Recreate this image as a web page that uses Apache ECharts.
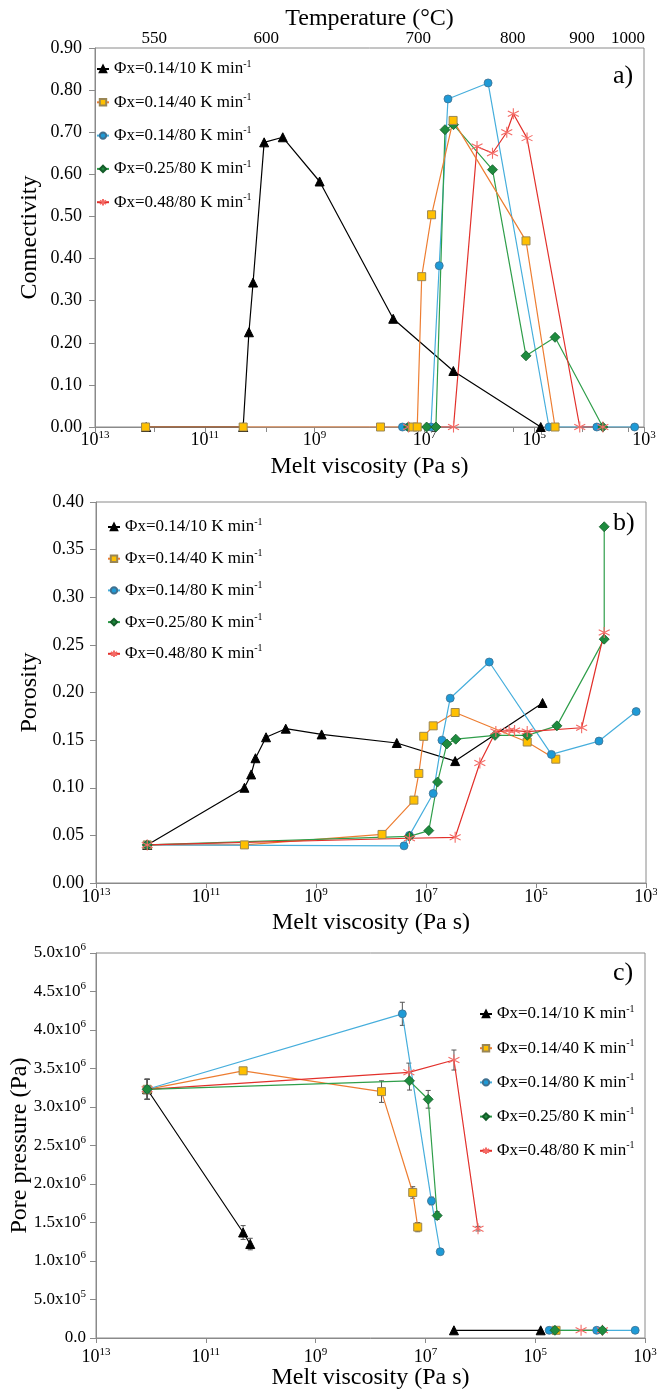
<!DOCTYPE html>
<html><head><meta charset="utf-8">
<script src="https://cdn.jsdelivr.net/npm/echarts@6/dist/echarts.min.js"></script>
<style>html,body{margin:0;padding:0;background:#fff}#c{width:657px;height:1393px}</style>
</head><body><div id="c"></div>
<script>
// ---------- DATA ----------
const seriesNames = ['Φx=0.14/10 K min-1','Φx=0.14/40 K min-1','Φx=0.14/80 K min-1','Φx=0.25/80 K min-1','Φx=0.48/80 K min-1'];

// top axis: temperature labels and their position as log10 melt viscosity
const tempLabels = ['550','600','700','800','900','1000'];
const tempLogViscosity = [11.92, 9.88, 7.11, 5.39, 4.13, 3.29];

// Panel a) connectivity vs melt viscosity (Pa s)
const aEta10 = [1.17e12, 2.0e10, 1.57e10, 1.32e10, 8.3e9, 3.8e9, 8.1e8, 3.7e7, 2.97e6, 7.6e4];
const aConn10 = [0, 0, 0.225, 0.343, 0.676, 0.688, 0.583, 0.257, 0.133, 0];
const aEta40 = [1.2e12, 2.0e10, 6.3e7, 1.62e7, 1.35e7, 1.12e7, 7.4e6, 3.0e6, 1.41e5, 4.17e4];
const aConn40 = [0, 0, 0, 0, 0, 0.357, 0.504, 0.728, 0.442, 0];
const aEta80 = [2.51e7, 1.95e7, 7.6e6, 5.37e6, 3.72e6, 6.92e5, 5.37e4, 7.24e3, 1.48e3];
const aConn80 = [0, 0, 0, 0.383, 0.779, 0.817, 0, 0, 0];
const aEta25 = [1.95e7, 9.1e6, 6.17e6, 4.22e6, 2.95e6, 5.75e5, 1.41e5, 4.17e4, 5.62e3];
const aConn25 = [0, 0, 0, 0.706, 0.718, 0.611, 0.169, 0.213, 0];
const aEta48 = [1.95e7, 2.95e6, 1.1e6, 5.75e5, 3.16e5, 2.4e5, 1.35e5, 1.48e4, 5.62e3];
const aConn48 = [0, 0, 0.666, 0.650, 0.700, 0.744, 0.686, 0, 0];

// Panel b) porosity
const bEta10 = [1.17e12, 2.0e10, 1.51e10, 1.26e10, 8.1e9, 3.55e9, 7.9e8, 3.4e7, 2.95e6, 7.6e4];
const bPor10 = [0.040, 0.100, 0.114, 0.131, 0.153, 0.162, 0.156, 0.147, 0.128, 0.189];
const bEta40 = [1.17e12, 2.0e10, 6.3e7, 1.66e7, 1.35e7, 1.1e7, 7.4e6, 2.95e6, 1.445e5, 4.37e4];
const bPor40 = [0.040, 0.040, 0.051, 0.087, 0.115, 0.154, 0.165, 0.179, 0.148, 0.130];
const bEta80 = [1.17e12, 2.51e7, 2.0e7, 7.4e6, 5.13e6, 3.63e6, 7.08e5, 5.25e4, 7.16e3, 1.51e3];
const bPor80 = [0.040, 0.039, 0.050, 0.094, 0.150, 0.194, 0.232, 0.135, 0.149, 0.180];
const bEta25 = [1.17e12, 2.0e7, 8.9e6, 6.17e6, 4.17e6, 2.88e6, 5.56e5, 1.445e5, 4.17e4, 5.75e3, 5.75e3];
const bPor25 = [0.040, 0.049, 0.055, 0.106, 0.146, 0.151, 0.155, 0.155, 0.165, 0.256, 0.374];
const bEta48 = [1.17e12, 2.0e7, 2.95e6, 1.05e6, 5.37e5, 3.09e5, 2.45e5, 1.445e5, 1.48e4, 5.75e3];
const bPor48 = [0.040, 0.047, 0.048, 0.126, 0.159, 0.160, 0.160, 0.159, 0.163, 0.263];

// Panel c) pore pressure (Pa), with error half-widths (null = gap in line)
const cEta10 = [1.17e12, 2.09e10, 1.55e10, null, 3.02e6, 7.94e4];
const cPre10 = [3.23e6, 1.37e6, 1.22e6, null, 1.0e5, 1.0e5];
const cErr10 = [0.13e6, 0.09e6, 0.075e6, null, 0, 0];
const cEta40 = [1.17e12, 2.09e10, 6.3e7, 1.7e7, 1.38e7, null, 4.17e4];
const cPre40 = [3.23e6, 3.47e6, 3.20e6, 1.89e6, 1.44e6, null, 1.0e5];
const cErr40 = [0.13e6, 0, 0.14e6, 0.075e6, 0.06e6, null, 0];
const cEta80 = [1.17e12, 2.63e7, 7.76e6, 5.37e6, null, 5.56e4, 7.59e3, 1.51e3];
const cPre80 = [3.23e6, 4.21e6, 1.78e6, 1.12e6, null, 1.0e5, 1.0e5, 1.0e5];
const cErr80 = [0.13e6, 0.15e6, 0.05e6, 0.03e6, null, 0, 0, 0];
const cEta25 = [1.17e12, 1.95e7, 8.9e6, 6.1e6, null, 4.37e4, 5.96e3];
const cPre25 = [3.23e6, 3.34e6, 3.10e6, 1.59e6, null, 1.0e5, 1.0e5];
const cErr25 = [0.13e6, 0.12e6, 0.115e6, 0.05e6, null, 0, 0];
const cEta48 = [1.17e12, 2.0e7, 3.02e6, 1.1e6, null, 1.46e4, 5.96e3];
const cPre48 = [3.23e6, 3.45e6, 3.61e6, 1.42e6, null, 1.0e5, 1.0e5];
const cErr48 = [0.13e6, 0.12e6, 0.13e6, 0.03e6, null, 0, 0];

// ---------- STYLE ----------
const FONT = 'Liberation Serif';
const GRAY = '#8a8a8a';
const ASTERISK = 'path://M5,0L5,10M0.7,2.5L9.3,7.5M0.7,7.5L9.3,2.5';
const styles = [
  {symbol:'triangle', size:9, fill:'#000000', border:'#000000', bw:1, line:'#000000'},
  {symbol:'rect', size:8, fill:'#FFC000', border:'#9a8654', bw:1, line:'#ED7D31'},
  {symbol:'circle', size:8, fill:'#1E9AD6', border:'#40708f', bw:0.8, line:'#46AEDC'},
  {symbol:'diamond', size:10, fill:'#1E8B3E', border:'#145c29', bw:0.8, line:'#2F9E4A'},
  {symbol:ASTERISK, size:11, fill:'#F46B66', border:'#F46B66', bw:1.1, line:'#E2302B'}
];

function pairs(xs, ys) {
  return xs.map((x, i) => (x == null || ys[i] == null) ? ['-', '-'] : [x, ys[i]]);
}
function lineSeries(k, xIdx, yIdx, xs, ys) {
  const s = styles[k];
  return {
    name: seriesNames[k], type: 'line', xAxisIndex: xIdx, yAxisIndex: yIdx,
    data: pairs(xs, ys), symbol: s.symbol, symbolSize: s.size, showSymbol: true,
    connectNulls: false, animation: false,
    lineStyle: {color: s.line, width: 1.2},
    itemStyle: {color: s.fill, borderColor: s.border, borderWidth: s.bw},
    emphasis: {disabled: true}
  };
}
function errSeries(xs, ys, es) {
  const d = [];
  xs.forEach((x, i) => { if (x != null && es[i]) d.push([x, ys[i] - es[i], ys[i] + es[i]]); });
  return {
    type: 'custom', xAxisIndex: 3, yAxisIndex: 2, data: d, animation: false,
    encode: {x: 0, y: [1, 2]}, silent: true,
    renderItem: (params, api) => {
      const x = api.value(0);
      const p1 = api.coord([x, api.value(2)]);
      const p2 = api.coord([x, api.value(1)]);
      const w = 2.5, st = {stroke: '#555555', lineWidth: 1};
      return {type: 'group', children: [
        {type: 'line', shape: {x1: p1[0], y1: p1[1], x2: p2[0], y2: p2[1]}, style: st},
        {type: 'line', shape: {x1: p1[0] - w, y1: p1[1], x2: p1[0] + w, y2: p1[1]}, style: st},
        {type: 'line', shape: {x1: p2[0] - w, y1: p2[1], x2: p2[0] + w, y2: p2[1]}, style: st}
      ]};
    }
  };
}

const supRich = {sup: {fontSize: 11, fontFamily: FONT, color: '#000', lineHeight: 10, verticalAlign: 'top'}};
function logLabel(v) { return '10{sup|' + Math.round(Math.log10(v)) + '}'; }
function sciLabel(v) {
  if (v === 0) return '0.0';
  const e = Math.floor(Math.log10(v) + 1e-9);
  return (v / Math.pow(10, e)).toFixed(1) + 'x10{sup|' + e + '}';
}
const nameStyle = {fontFamily: FONT, fontSize: 24, color: '#000'};

function bottomAxis(grid, margin) {
  return {
    gridIndex: grid, type: 'log', logBase: 10, min: 1e3, max: 1e13, interval: 2, inverse: true,
    name: 'Melt viscosity (Pa s)', nameLocation: 'middle', nameGap: 28, nameTextStyle: nameStyle,
    nameMoveOverlap: false,
    axisLine: {show: true, onZero: false, lineStyle: {color: GRAY}},
    axisTick: {show: true, length: 5, lineStyle: {color: GRAY}},
    axisLabel: {formatter: logLabel, fontFamily: FONT, fontSize: 18, color: '#000', margin: margin, lineHeight: 20, rich: supRich},
    splitLine: {show: false}, minorTick: {show: false}
  };
}
function leftAxis(grid, max, interval, name, fmt, margin, gap, fs) {
  return {
    gridIndex: grid, type: 'value', min: 0, max: max, interval: interval,
    name: name, nameLocation: 'middle', nameGap: gap, nameTextStyle: nameStyle,
    nameMoveOverlap: false,
    axisLine: {show: true, lineStyle: {color: GRAY}},
    axisTick: {show: true, length: 6, lineStyle: {color: GRAY}},
    axisLabel: {formatter: fmt, fontFamily: FONT, fontSize: fs, color: '#000', margin: margin, lineHeight: 22, rich: supRich},
    splitLine: {show: false}
  };
}
function legend(left, top, gap) {
  return {
    data: seriesNames, orient: 'vertical', left: left, top: top, itemGap: gap,
    itemWidth: 12, itemHeight: 8, padding: 0,
    formatter: n => n.replace(/-1$/, '') + '{sup|-1}',
    textStyle: {fontFamily: FONT, fontSize: 17, color: '#000', lineHeight: 20,
      rich: {sup: {fontSize: 10, fontFamily: FONT, color: '#000', lineHeight: 10, verticalAlign: 'top'}}}
  };
}
const panelTitle = (t, top) => ({text: t, left: 613, top: top, padding: 0,
  textStyle: {fontFamily: FONT, fontSize: 26, fontWeight: 'normal', color: '#000'}});

const series = [];
// error bars first (beneath markers)
series.push(errSeries(cEta10, cPre10, cErr10));
series.push(errSeries(cEta40, cPre40, cErr40));
series.push(errSeries(cEta80, cPre80, cErr80));
series.push(errSeries(cEta25, cPre25, cErr25));
series.push(errSeries(cEta48, cPre48, cErr48));
// panel a
series.push(lineSeries(0, 0, 0, aEta10, aConn10));
series.push(lineSeries(2, 0, 0, aEta80, aConn80));
series.push(lineSeries(3, 0, 0, aEta25, aConn25));
series.push(lineSeries(4, 0, 0, aEta48, aConn48));
series.push(lineSeries(1, 0, 0, aEta40, aConn40));
// panel b
series.push(lineSeries(0, 2, 1, bEta10, bPor10));
series.push(lineSeries(1, 2, 1, bEta40, bPor40));
series.push(lineSeries(2, 2, 1, bEta80, bPor80));
series.push(lineSeries(3, 2, 1, bEta25, bPor25));
series.push(lineSeries(4, 2, 1, bEta48, bPor48));
// panel c
series.push(lineSeries(0, 3, 2, cEta10, cPre10));
series.push(lineSeries(1, 3, 2, cEta40, cPre40));
series.push(lineSeries(2, 3, 2, cEta80, cPre80));
series.push(lineSeries(4, 3, 2, cEta48, cPre48));
series.push(lineSeries(3, 3, 2, cEta25, cPre25));

const gridBase = {show: true, borderColor: GRAY, borderWidth: 1, containLabel: false, outerBoundsMode: 'none'};
const option = {
  animation: false,
  backgroundColor: '#ffffff',
  title: [panelTitle('a)', 63), panelTitle('b)', 510), panelTitle('c)', 960)],
  legend: [legend(96, 59, 13.3), legend(107, 517, 11.7), legend(479, 1004, 14.2)],
  grid: [
    Object.assign({left: 95, top: 48, width: 549, height: 379}, gridBase),
    Object.assign({left: 96, top: 502, width: 550, height: 381}, gridBase),
    Object.assign({left: 96, top: 953, width: 549, height: 385}, gridBase)
  ],
  xAxis: [
    bottomAxis(0, 3),
    {
      gridIndex: 0, type: 'value', position: 'top', min: 3, max: 13, inverse: true,
      name: 'Temperature (°C)', nameLocation: 'middle', nameGap: 17, nameTextStyle: nameStyle,
      nameMoveOverlap: false,
      axisLine: {show: true, lineStyle: {color: GRAY}},
      axisTick: {show: true, inside: true, length: 5, customValues: tempLogViscosity, lineStyle: {color: GRAY}},
      axisLabel: {customValues: tempLogViscosity, margin: 1, fontFamily: FONT, fontSize: 17, color: '#000',
        formatter: v => { let bi = 0; tempLogViscosity.forEach((t, i) => { if (Math.abs(t - v) < Math.abs(tempLogViscosity[bi] - v)) bi = i; }); return tempLabels[bi]; }},
      splitLine: {show: false}
    },
    bottomAxis(1, 4),
    bottomAxis(2, 9)
  ],
  yAxis: [
    leftAxis(0, 0.9, 0.1, 'Connectivity', v => v.toFixed(2), 13, 53, 18),
    leftAxis(1, 0.4, 0.05, 'Porosity', v => v.toFixed(2), 12, 54, 18),
    leftAxis(2, 5e6, 5e5, 'Pore pressure (Pa)', sciLabel, 10, 64, 17)
  ],
  series: series
};
const chart = echarts.init(document.getElementById('c'));
chart.setOption(option);
</script></body></html>
